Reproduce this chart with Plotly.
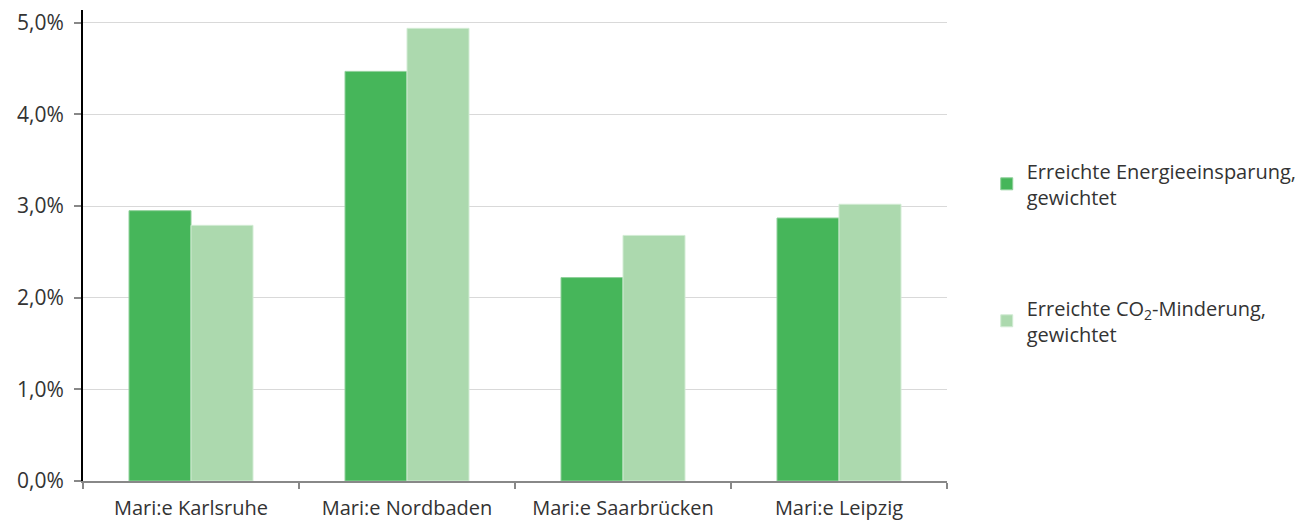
import plotly.graph_objects as go

categories = ["Mari:e Karlsruhe", "Mari:e Nordbaden", "Mari:e Saarbrücken", "Mari:e Leipzig"]
energie = [0.0295, 0.0447, 0.0222, 0.0287]
co2 = [0.0279, 0.0494, 0.0268, 0.0302]
names = ["Erreichte Energieeinsparung,<br>gewichtet", "Erreichte CO<sub>2</sub>-Minderung,<br>gewichtet"]
tickvals = [0, 0.01, 0.02, 0.03, 0.04, 0.05]

fig = go.Figure()
fig.add_trace(go.Bar(x=categories, y=energie, name=names[0], marker=dict(color="#46b65a", line=dict(color="#8fd09a", width=1)), legendgroup="a"))
fig.add_trace(go.Bar(x=categories, y=co2, name=names[1], marker=dict(color="#acd9ae", line=dict(color="#d2ecd4", width=1)), legendgroup="b"))

fig.update_layout(
    width=1301, height=514,
    margin=dict(l=75, r=362, t=0, b=41),
    plot_bgcolor="white", paper_bgcolor="white",
    barmode="group", bargap=0.426, bargroupgap=0,
    separators=",.",
    font=dict(family="Open Sans", size=19, color="#333333"),
    legend=dict(x=1.046, y=0.70, xanchor="left", yanchor="top", tracegroupgap=82,
                font=dict(family="Open Sans", size=20, color="#333333"), itemwidth=30),
    xaxis=dict(showline=True, linecolor="#888888", linewidth=2, ticks="outside", tickson="boundaries",
               ticklen=6, tickcolor="#888888", tickwidth=2, showgrid=False, tickfont=dict(size=20),
               ticklabelstandoff=8),
    yaxis=dict(range=[0, 0.0514], tickvals=tickvals, tickformat=".1%", showline=True, linecolor="black",
               linewidth=2, ticks="outside", ticklen=7, tickcolor="#888888", tickwidth=2,
               showgrid=True, gridcolor="#d9d9d9", gridwidth=1, zeroline=False, tickfont=dict(size=21),
               ticklabelstandoff=6, ticklabeloverflow="allow"),
)
fig.write_html("out.html")
